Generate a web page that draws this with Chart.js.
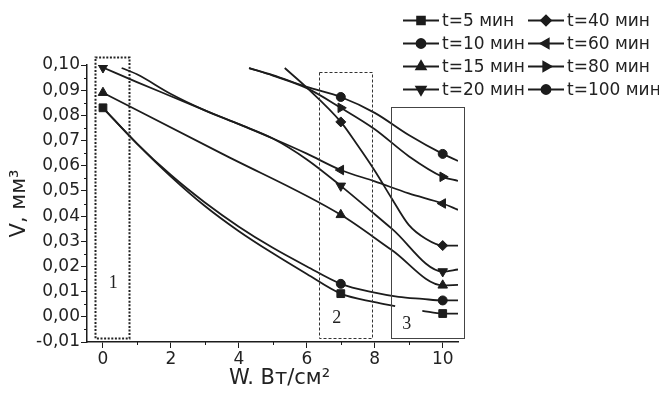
<!DOCTYPE html>
<html><head><meta charset="utf-8">
<script src="https://cdn.jsdelivr.net/npm/chart.js@4"></script>
<style>html,body{margin:0;padding:0;background:#fff}</style>
</head><body>
<canvas id="c" width="659" height="394" style="width:659px;height:394px;display:block"></canvas>
<script>
// ---------- DATA ----------
const seriesNames = ['t=5 мин','t=10 мин','t=15 мин','t=20 мин','t=40 мин','t=60 мин','t=80 мин','t=100 мин'];
const markerW = [0, 7, 10];               // W at which measured points are marked
// measured (marked) values, null = not visible on the chart
const mark5   = [0.083, 0.0092, 0.0013];
const mark10  = [null, 0.0131, 0.0065];
const mark15  = [0.089, 0.0405, 0.0125];
const mark20  = [0.099, 0.052, 0.018];
const mark40  = [null, 0.0774, 0.0283];
const mark60  = [null, 0.0583, 0.045];
const mark80  = [null, 0.083, 0.0556];
const mark100 = [null, 0.0873, 0.0647];
// fitted curves (W, V)
const curveW5   = [0,1,2,3,4,5,6,7,8,8.6,9,9.4,10,10.45];
const curveV5   = [0.083,0.0688,0.0557,0.044,0.034,0.0252,0.017,0.0092,0.0058,0.0042,null,0.0024,0.0013,0.0013];
const curveW10  = [0,1,2,3,4,5,6,7,8,8.7,9.4,10,10.45];
const curveV10  = [0.083,0.0688,0.0563,0.0454,0.0358,0.0274,0.02,0.0131,0.0096,0.0079,0.0071,0.0065,0.0065];
const curveW15  = [0,3.5,7,8.5,10,10.45];
const curveV15  = [0.089,0.0648,0.0405,0.0265,0.0125,0.0127];
const curveW20  = [0,1,2,3,4,5,6,7,8.5,10,10.45];
const curveV20  = [0.099,0.0932,0.0876,0.082,0.0765,0.0708,0.0625,0.052,0.035,0.018,0.0188];
const curveW40  = [5.35,6,7,7.5,8,8.5,9,9.5,10,10.45];
const curveV40  = [0.0988,0.091,0.0774,0.068,0.058,0.047,0.0365,0.031,0.0283,0.0283];
const curveW60  = [0.55,1,2,3,4,5,6,7,8,9,10,10.45];
const curveV60  = [0.0988,0.0963,0.0885,0.082,0.0765,0.0708,0.0648,0.0583,0.0538,0.049,0.045,0.0425];
const curveW80  = [4.3,5,6,7,8,9,10,10.45];
const curveV80  = [0.0988,0.0958,0.0908,0.083,0.0745,0.0638,0.0556,0.054];
const curveW100 = [4.3,5,6,7,8,9,10,10.45];
const curveV100 = [0.0988,0.096,0.0913,0.0873,0.081,0.0722,0.0647,0.0619];
const xTickLabels = ['0','2','4','6','8','10'];
const yTickLabels = ['-0,01','0,00','0,01','0,02','0,03','0,04','0,05','0,06','0,07','0,08','0,09','0,10'];
const xTitle = 'W. Вт/см²';
const yTitle = 'V, мм³';

// ---------- STYLE ----------
const INK = '#1c1c1c';
const marks  = [mark5,mark10,mark15,mark20,mark40,mark60,mark80,mark100];
const curveW = [curveW5,curveW10,curveW15,curveW20,curveW40,curveW60,curveW80,curveW100];
const curveV = [curveV5,curveV10,curveV15,curveV20,curveV40,curveV60,curveV80,curveV100];
const pStyle = ['rect','circle','triangle','triangle','rectRot','triangle','triangle','circle'];
const pRot   = [0,0,0,180,0,270,90,0];
const pRad   = [5.5,4.5,5.5,5.5,5,5.5,5.5,4.5];

const datasets = [];
for (let i = 0; i < seriesNames.length; i++) {
  datasets.push({
    label: seriesNames[i],
    data: curveW[i].map((w, k) => ({x: w, y: curveV[i][k]})),
    borderColor: INK, borderWidth: 1.8, pointRadius: 0,
    cubicInterpolationMode: 'monotone', spanGaps: false, fill: false, order: 2
  });
}
for (let i = 0; i < seriesNames.length; i++) {
  datasets.push({
    label: seriesNames[i] + ' (marks)',
    data: markerW.map((w, k) => ({x: w, y: marks[i][k]})).filter(p => p.y !== null),
    showLine: false, pointStyle: pStyle[i], pointRotation: pRot[i], pointRadius: pRad[i],
    backgroundColor: INK, borderColor: INK, borderWidth: 1, order: 1
  });
}

const FONT = "'DejaVu Sans', Arial, sans-serif";
const isMinorX = v => Math.abs(Math.round(v)) % 2 === 1;
const isMinorY = v => Math.abs(Math.round(v * 1000)) % 10 !== 0;

// annotation boxes in data coordinates
const boxes = [
  {x0: -0.235, x1: 0.765, y0: -0.0083, y1: 0.1032, dash: [2, 1.6], lw: 2, color: '#222', label: '1', lx: 0.3, ly: 0.0135},
  {x0: 6.35, x1: 7.91, y0: -0.0083, y1: 0.0972, dash: [3, 2], lw: 1, color: '#333', label: '2', lx: 6.88, ly: -0.0004},
  {x0: 8.47, x1: 10.62, y0: -0.0083, y1: 0.0833, dash: [], lw: 1, color: '#444', label: '3', lx: 8.94, ly: -0.0028}
];

const extras = {
  id: 'extras',
  afterDraw(chart) {
    const {ctx, scales: {x, y}} = chart;
    ctx.save();
    // minor ticks
    ctx.strokeStyle = INK; ctx.lineWidth = 1;
    x.ticks.forEach(t => {
      if (isMinorX(t.value)) {
        const px = Math.round(x.getPixelForValue(t.value)) + 0.5;
        ctx.beginPath(); ctx.moveTo(px, x.top); ctx.lineTo(px, x.top + 3); ctx.stroke();
      }
    });
    y.ticks.forEach(t => {
      if (isMinorY(t.value)) {
        const py = Math.round(y.getPixelForValue(t.value)) + 0.5;
        ctx.beginPath(); ctx.moveTo(y.right, py); ctx.lineTo(y.right - 3, py); ctx.stroke();
      }
    });
    // x axis title (slightly right of centre, as in the original)
    ctx.fillStyle = '#222'; ctx.font = '21px ' + FONT;
    ctx.textAlign = 'center'; ctx.textBaseline = 'middle';
    ctx.fillText(xTitle, (x.left + x.right) / 2 + 7, x.bottom - 15);
    // boxes
    boxes.forEach(b => {
      const l = x.getPixelForValue(b.x0), r = x.getPixelForValue(b.x1);
      const t = y.getPixelForValue(b.y1), bt = y.getPixelForValue(b.y0);
      ctx.setLineDash(b.dash); ctx.lineWidth = b.lw; ctx.strokeStyle = b.color;
      ctx.strokeRect(Math.round(l) + 0.5, Math.round(t) + 0.5, Math.round(r - l), Math.round(bt - t));
      ctx.setLineDash([]);
      ctx.fillStyle = '#222'; ctx.font = "18px 'Liberation Serif', 'Times New Roman', serif";
      ctx.textAlign = 'center'; ctx.textBaseline = 'middle';
      ctx.fillText(b.label, x.getPixelForValue(b.lx), y.getPixelForValue(b.ly));
    });
    // legend: two columns of four
    const colX = [403, 528], rowY = [20.5, 43.5, 66.5, 89.5], lineLen = 36;
    ctx.font = '17px ' + FONT; ctx.textAlign = 'left'; ctx.textBaseline = 'middle';
    for (let i = 0; i < seriesNames.length; i++) {
      const cx = colX[Math.floor(i / 4)], cy = rowY[i % 4];
      ctx.strokeStyle = INK; ctx.lineWidth = 1.8;
      ctx.beginPath(); ctx.moveTo(cx, cy); ctx.lineTo(cx + lineLen, cy); ctx.stroke();
      Chart.helpers.drawPoint(ctx, {pointStyle: pStyle[i], rotation: pRot[i], radius: pRad[i], borderWidth: 1}, cx + lineLen / 2, cy);
      ctx.fillStyle = INK; ctx.fill();
      ctx.fillStyle = '#222';
      ctx.fillText(seriesNames[i], cx + lineLen + 3, cy + 1);
    }
    ctx.restore();
  }
};

new Chart(document.getElementById('c'), {
  type: 'line',
  data: {datasets},
  options: {
    responsive: false, animation: false, devicePixelRatio: 1,
    layout: {padding: {top: 65, right: 201, left: 0, bottom: 0}},
    plugins: {legend: {display: false}, tooltip: {enabled: false}},
    scales: {
      x: {
        type: 'linear', min: -0.47, max: 10.45,
        ticks: {stepSize: 1, includeBounds: false, autoSkip: false, maxRotation: 0, padding: 1,
          color: '#222', font: {family: FONT, size: 17},
          callback: v => isMinorX(v) ? '' : xTickLabels[Math.round(v) / 2]},
        grid: {drawOnChartArea: false, tickLength: 6, tickWidth: 1,
          tickColor: c => (c.tick && isMinorX(c.tick.value)) ? 'rgba(0,0,0,0)' : INK},
        border: {color: INK, width: 1.5},
        title: {display: false},
        afterFit: s => { s.height = 52; }
      },
      y: {
        min: -0.01, max: 0.10,
        ticks: {stepSize: 0.005, includeBounds: false, autoSkip: false, maxTicksLimit: 100, padding: 1,
          color: '#222', font: {family: FONT, size: 17},
          callback: v => isMinorY(v) ? '' : yTickLabels[Math.round(v * 100) + 1]},
        grid: {drawOnChartArea: false, tickLength: 6, tickWidth: 1,
          tickColor: c => (c.tick && isMinorY(c.tick.value)) ? 'rgba(0,0,0,0)' : INK},
        border: {color: INK, width: 1.5},
        title: {display: true, text: yTitle, color: '#222', font: {family: FONT, size: 21}, padding: {top: 7, bottom: 0}},
        afterFit: s => { s.width = 87; }
      }
    }
  },
  plugins: [extras]
});
</script>
</body></html>
